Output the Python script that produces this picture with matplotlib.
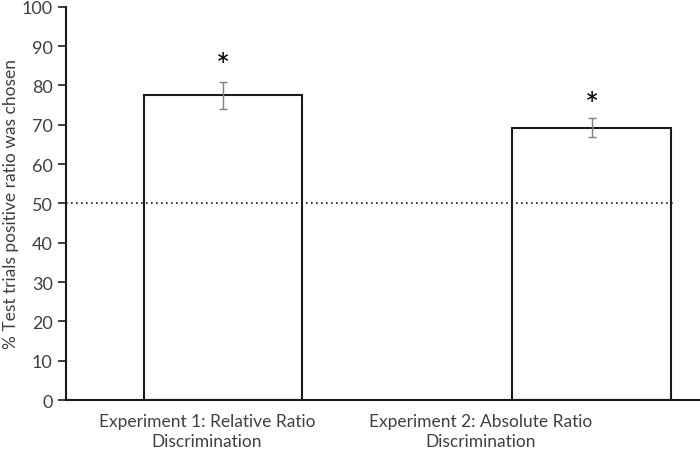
import matplotlib

matplotlib.use("Agg")
import matplotlib.pyplot as plt

CATEGORIES = ["Experiment 1: Relative Ratio\nDiscrimination", "Experiment 2: Absolute Ratio\nDiscrimination"]
MEANS = [77.5, 69.3]
ERRORS = [3.5, 2.5]
STAR_Y = [84.8, 74.8]
CHANCE = 50
Y_TICKS = list(range(0, 101, 10))

TEXT = "#404040"
plt.rcParams["font.family"] = ["Lato", "DejaVu Sans"]

fig = plt.figure(figsize=(7, 4.6), dpi=100)
ax = fig.add_axes([0.094, 0.128, 0.906, 0.855])

x = list(range(len(CATEGORIES)))
ax.bar(x, MEANS, width=0.43, color="white", edgecolor="#1a1a1a", linewidth=1.5, zorder=2)
ax.errorbar(x, MEANS, yerr=ERRORS, fmt="none", ecolor="#7f7f7f", elinewidth=1, capsize=3, capthick=1, zorder=3)
for xi, sy in zip(x, STAR_Y):
    ax.text(xi, sy, "*", ha="center", va="center", fontsize=24, color="black")

ax.plot([-0.426, 1.227], [CHANCE, CHANCE], linestyle=(0, (1, 2)), color="#1a1a1a", linewidth=1.2, zorder=4)

ax.set_xlim(-0.426, 1.294)
ax.set_ylim(0, 100)
ax.set_yticks(Y_TICKS)
# category labels sit left of the bar centres in the original
ax.set_xticks([-0.043, 0.70])
ax.set_xticklabels(CATEGORIES, fontsize=12.5, color=TEXT, linespacing=1.35)
ax.tick_params(axis="x", length=0, pad=9)
ax.tick_params(axis="y", direction="out", length=6, width=1.2, labelsize=13, labelcolor=TEXT, color="#1a1a1a")
ax.set_ylabel("% Test trials positive ratio was chosen", fontsize=12.5, color=TEXT, labelpad=2)

for side in ["top", "right"]:
    ax.spines[side].set_visible(False)
for side in ["left", "bottom"]:
    ax.spines[side].set_linewidth(1.5)
    ax.spines[side].set_color("#1a1a1a")

fig.savefig("out.png", dpi=100)
